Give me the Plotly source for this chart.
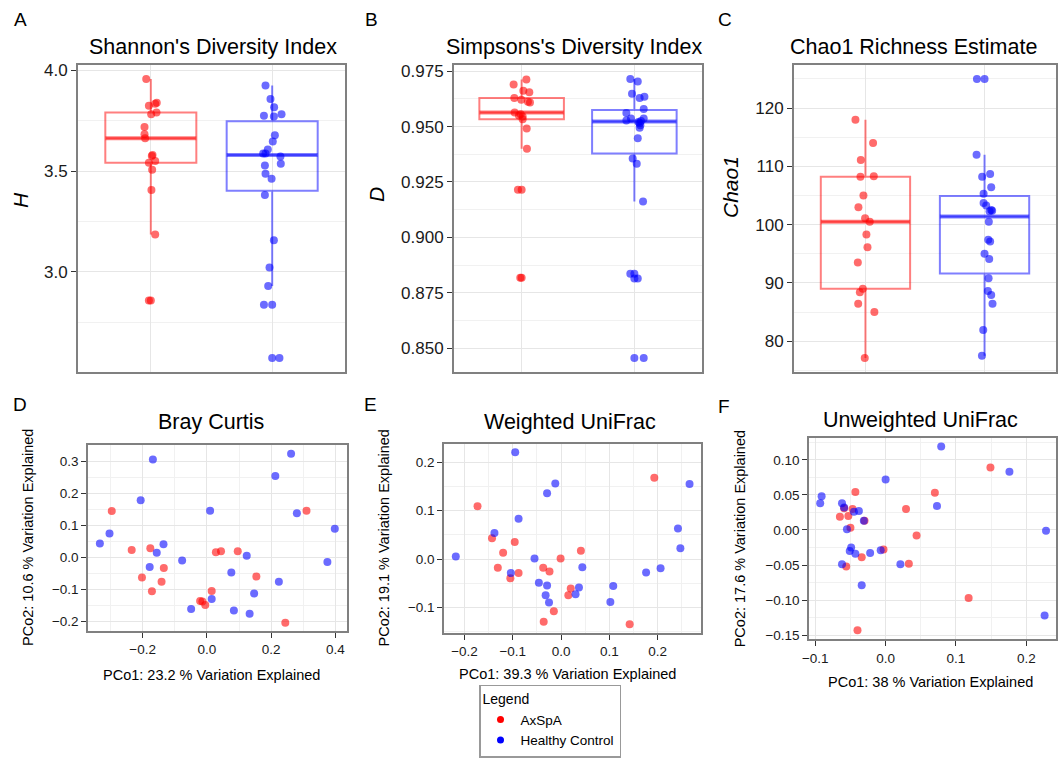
import numpy as np
import plotly.graph_objects as go

W, H = 1063, 759
FONT = "Liberation Sans, Arial, Helvetica, sans-serif"

groups = ["AxSpA", "Healthy Control"]

# ---------------- alpha diversity data ----------------
shannon_axspa = [3.958, 3.840, 3.835, 3.825, 3.792, 3.783, 3.720, 3.683, 3.663,
                 3.580, 3.575, 3.550, 3.542, 3.507, 3.407, 3.185, 2.858]
shannon_axspa_jitter = [-0.038, 0.049, 0.036, -0.016, 0.047, 0.003, -0.052, -0.052, -0.047,
                        0.014, 0.008, 0.036, -0.016, 0.011, 0.005, 0.036, -0.016]
shannon_hc = [3.925, 3.858, 3.817, 3.775, 3.772, 3.783, 3.678, 3.647, 3.608, 3.588, 3.588,
              3.573, 3.537, 3.528, 3.487, 3.463, 3.382, 3.157, 3.022, 2.930, 2.837, 2.572]
shannon_hc_jitter = [-0.055, -0.014, 0.016, -0.068, 0.014, 0.077, 0.022, 0.005, -0.036, -0.074, -0.055,
                     0.068, 0.071, -0.060, -0.055, -0.005, -0.060, 0.014, -0.022, -0.033, -0.068, 0.060]

simpson_axspa = [0.9690, 0.9712, 0.9662, 0.9655, 0.9629, 0.9621, 0.9609, 0.9612, 0.9564,
                 0.9556, 0.9545, 0.9533, 0.9550, 0.9491, 0.9400, 0.9215, 0.8818]
simpson_axspa_jitter = [-0.071, 0.042, 0.015, 0.068, -0.065, -0.003, 0.074, 0.056, -0.062,
                        -0.009, 0.009, 0.009, -0.024, 0.045, 0.047, -0.033, -0.012]
simpson_hc = [0.9715, 0.9703, 0.9648, 0.9629, 0.9635, 0.9579, 0.9561, 0.9536, 0.9527, 0.9536, 0.9521,
              0.9525, 0.9515, 0.9506, 0.9495, 0.9447, 0.9356, 0.9332, 0.9162, 0.8836, 0.8814, 0.8455]
simpson_hc_jitter = [-0.036, 0.030, -0.021, 0.047, 0.089, 0.083, -0.071, -0.030, -0.071, 0.083, 0.036,
                     0.059, 0.047, 0.053, 0.047, 0.030, -0.015, 0.021, 0.077, -0.036, 0.030, 0.083]

chao1_axspa = [118.0, 114.0, 111.1, 108.2, 108.3, 105.0, 103.0, 101.1, 100.5,
               98.3, 96.1, 93.5, 89.0, 88.4, 86.4, 85.0, 77.1]
chao1_axspa_jitter = [-0.084, 0.064, -0.039, -0.042, 0.070, -0.017, -0.059, -0.003, 0.036,
                      0.008, 0.017, -0.064, -0.022, -0.047, -0.061, 0.075, -0.006]
chao1_hc = [125.0, 112.0, 108.2, 108.7, 106.4, 105.3, 103.7, 103.3, 102.5, 102.4, 102.3,
            100.5, 97.4, 97.1, 95.0, 94.1, 90.8, 88.6, 87.9, 86.4, 81.9, 77.5]
chao1_hc_jitter = [-0.064, -0.067, -0.020, 0.047, 0.056, -0.008, -0.008, 0.014, 0.056, 0.064, 0.042,
                   0.036, 0.031, 0.047, 0.000, 0.039, 0.034, 0.028, 0.056, 0.067, -0.011, -0.022]

# ---------------- beta diversity (PCoA) data ----------------
bc_axspa_x = [-0.296, -0.234, -0.176, -0.202, -0.171, -0.134, -0.141, 0.028, 0.044, 0.096,
              0.154, 0.310, 0.015, -0.021, -0.014, -0.005, 0.244]
bc_axspa_y = [0.144, 0.023, 0.028, -0.063, -0.106, -0.033, -0.076, 0.016, 0.019, 0.019,
              -0.060, 0.145, -0.105, -0.136, -0.138, -0.149, -0.204]
bc_hc_x = [-0.168, -0.206, -0.333, -0.303, -0.135, -0.156, -0.178, -0.077, 0.010, -0.049, 0.015,
           0.076, 0.084, 0.124, 0.133, 0.147, 0.213, 0.262, 0.280, 0.224, 0.375, 0.398]
bc_hc_y = [0.305, 0.178, 0.043, 0.074, 0.041, 0.014, -0.030, -0.010, 0.145, -0.161, -0.130,
           -0.047, -0.166, 0.005, -0.176, -0.113, 0.253, 0.323, 0.137, -0.076, -0.015, 0.089]

wu_axspa_x = [-0.173, -0.143, -0.096, -0.120, -0.131, -0.088, -0.105, -0.037, -0.024, -0.001,
              0.041, 0.020, 0.015, -0.015, -0.036, 0.142, 0.193]
wu_axspa_y = [0.109, 0.043, 0.035, 0.013, -0.018, -0.029, -0.040, -0.018, -0.026, 0.001,
              0.017, -0.061, -0.075, -0.108, -0.130, -0.135, 0.168]
wu_hc_x = [-0.095, -0.012, -0.029, -0.088, -0.138, -0.218, -0.055, -0.104, -0.046, -0.029, -0.032,
           -0.025, 0.037, 0.030, 0.044, 0.108, 0.102, 0.176, 0.206, 0.242, 0.247, 0.266]
wu_hc_y = [0.221, 0.156, 0.136, 0.083, 0.054, 0.005, 0.001, -0.029, -0.049, -0.055, -0.075,
           -0.090, -0.059, -0.073, -0.017, -0.056, -0.089, -0.028, -0.019, 0.063, 0.022, 0.155]

uu_axspa_x = [0.149, 0.070, -0.043, 0.029, -0.065, -0.053, -0.047, -0.059, -0.030, -0.050,
              0.044, -0.003, -0.034, -0.056, 0.033, 0.118, -0.040]
uu_axspa_y = [0.089, 0.053, 0.054, 0.030, 0.019, 0.020, 0.030, 0.031, 0.013, 0.003,
              -0.008, -0.028, -0.039, -0.052, -0.048, -0.097, -0.143]
uu_hc_x = [0.079, 0.176, 0.000, -0.091, -0.093, -0.062, -0.059, -0.038, -0.045, 0.073, 0.228,
           -0.031, -0.055, -0.049, -0.051, -0.043, -0.022, -0.007, 0.021, -0.062, -0.034, 0.226]
uu_hc_y = [0.119, 0.083, 0.072, 0.048, 0.038, 0.038, 0.032, 0.027, 0.026, 0.034, -0.001,
           0.013, 0.001, -0.025, -0.030, -0.034, -0.033, -0.029, -0.049, -0.049, -0.079, -0.122]

# ---------------- styles ----------------
PT = {"AxSpA": "rgba(255,0,0,0.58)", "Healthy Control": "rgba(0,0,255,0.58)"}
BOXC = {"AxSpA": "rgba(255,0,0,0.5)", "Healthy Control": "rgba(0,0,255,0.5)"}
SOLID = {"AxSpA": "#ff0000", "Healthy Control": "#0000ff"}
GRID = "#e6e6e6"
MINOR = "#f1f1f1"
BORDER = "#808080"
MS = 8
BOXW = 0.75


def px2fx(px):
    return px / W


def px2fy(py):
    return 1 - py / H


def padded(lo, hi, frac=0.05):
    span = hi - lo
    return [lo - frac * span, hi + frac * span]


fig = go.Figure()


def add_box_panel(k, data, jitters):
    xa, ya = f"x{k}", f"y{k}"
    for i, (g, vals, jit) in enumerate(zip(groups, data, jitters)):
        c = i + 1
        v = np.asarray(vals, float)
        q1, med, q3 = np.percentile(v, [25, 50, 75])
        iqr = q3 - q1
        lo_f, hi_f = q1 - 1.5 * iqr, q3 + 1.5 * iqr
        inside = v[(v >= lo_f) & (v <= hi_f)]
        outl = v[(v < lo_f) | (v > hi_f)]
        fig.add_trace(go.Box(
            x=[c], q1=[q1], median=[med], q3=[q3],
            lowerfence=[inside.min()], upperfence=[inside.max()],
            orientation="v", width=BOXW, whiskerwidth=0, boxpoints=False,
            line=dict(color=BOXC[g], width=2), fillcolor="rgba(255,255,255,0)",
            xaxis=xa, yaxis=ya, showlegend=False, hoverinfo="skip"))
        fig.add_trace(go.Scatter(
            x=[c - BOXW / 2, c + BOXW / 2], y=[med, med], mode="lines",
            line=dict(color=BOXC[g], width=4), xaxis=xa, yaxis=ya,
            showlegend=False, hoverinfo="skip"))
        if len(outl):
            fig.add_trace(go.Scatter(
                x=[c] * len(outl), y=outl, mode="markers",
                marker=dict(color=PT[g], size=MS), xaxis=xa, yaxis=ya,
                showlegend=False))
        fig.add_trace(go.Scatter(
            x=[c + j for j in jit], y=vals, mode="markers",
            marker=dict(color=PT[g], size=MS), xaxis=xa, yaxis=ya,
            showlegend=False, name=g))


def add_pcoa_panel(k, xs, ys):
    for g, xv, yv in zip(groups, xs, ys):
        fig.add_trace(go.Scatter(
            x=xv, y=yv, mode="markers", marker=dict(color=PT[g], size=MS),
            xaxis=f"x{k}", yaxis=f"y{k}", showlegend=False, name=g))


add_box_panel(1, [shannon_axspa, shannon_hc], [shannon_axspa_jitter, shannon_hc_jitter])
add_box_panel(2, [simpson_axspa, simpson_hc], [simpson_axspa_jitter, simpson_hc_jitter])
add_box_panel(3, [chao1_axspa, chao1_hc], [chao1_axspa_jitter, chao1_hc_jitter])
add_pcoa_panel(4, [bc_axspa_x, bc_hc_x], [bc_axspa_y, bc_hc_y])
add_pcoa_panel(5, [wu_axspa_x, wu_hc_x], [wu_axspa_y, wu_hc_y])
add_pcoa_panel(6, [uu_axspa_x, uu_hc_x], [uu_axspa_y, uu_hc_y])

# legend entries
for g in groups:
    fig.add_trace(go.Scatter(x=[None], y=[None], mode="markers",
                             marker=dict(color=SOLID[g], size=7), name=g,
                             xaxis="x1", yaxis="y1", showlegend=True))

# ---------------- axes ----------------
boxes = {
    1: (78, 345, 65, 372), 2: (454, 702, 65, 372), 3: (794, 1056, 65, 372),
    4: (88.3, 347, 445, 631), 5: (444.3, 701, 444.3, 632.7), 6: (809.3, 1056, 438.3, 639.3),
}

allv = lambda a, b: (min(a + b), max(a + b))
yspec = {
    1: dict(range=padded(*allv(shannon_axspa, shannon_hc)), tick0=3.0, dtick=0.5, minor=0.25, fmt=".1f"),
    2: dict(range=padded(*allv(simpson_axspa, simpson_hc)), tick0=0.85, dtick=0.025, minor=0.0125, fmt=".3f"),
    3: dict(range=padded(*allv(chao1_axspa, chao1_hc)), tick0=80, dtick=10, minor=5, fmt="d"),
    4: dict(range=[-0.2297, 0.350], tick0=0, dtick=0.1, minor=0.05, fmt=".1f"),
    5: dict(range=[-0.1524, 0.2372], tick0=0, dtick=0.1, minor=0.05, fmt=".1f"),
    6: dict(range=[-0.1559, 0.1307], tick0=0, dtick=0.05, minor=0.025, fmt=".2f"),
}
xspec = {
    4: dict(range=[-0.369, 0.436], tick0=0, dtick=0.2, minor=0.1, fmt=".1f"),
    5: dict(range=[-0.2418, 0.2897], tick0=0, dtick=0.1, minor=0.05, fmt=".1f"),
    6: dict(range=[-0.1085, 0.2422], tick0=0, dtick=0.1, minor=0.05, fmt=".1f"),
}

layout_axes = {}
for k, (x0, x1, y0, y1) in boxes.items():
    top = k <= 3
    tfs = 17 if top else 13.5
    common = dict(showline=True, mirror=True, linecolor=BORDER, linewidth=2,
                  showgrid=True, gridcolor=GRID, gridwidth=1, zeroline=False,
                  tickfont=dict(family=FONT, size=tfs, color="#1a1a1a"))
    ys = yspec[k]
    yax = dict(common, domain=[px2fy(y1), px2fy(y0)], range=ys["range"],
               tickmode="linear", tick0=ys["tick0"], dtick=ys["dtick"],
               tickformat=ys["fmt"], ticks="outside", ticklen=5, tickwidth=1,
               tickcolor="#333333", anchor=f"x{k}",
               minor=dict(dtick=ys["minor"], tick0=ys["tick0"], showgrid=True,
                          gridcolor=MINOR, gridwidth=1, ticks=""))
    if top:
        xax = dict(common, domain=[px2fx(x0), px2fx(x1)], range=[0.4, 2.6],
                   type="linear", tickmode="array", tickvals=[1, 2],
                   showticklabels=False, ticks="", anchor=f"y{k}")
    else:
        xs = xspec[k]
        xax = dict(common, domain=[px2fx(x0), px2fx(x1)], range=xs["range"],
                   tickmode="linear", tick0=xs["tick0"], dtick=xs["dtick"],
                   tickformat=xs["fmt"], ticks="outside", ticklen=5, tickwidth=1,
                   tickcolor="#333333", anchor=f"y{k}",
                   minor=dict(dtick=xs["minor"], tick0=xs["tick0"], showgrid=True,
                              gridcolor=MINOR, gridwidth=1, ticks=""))
    suffix = "" if k == 1 else str(k)
    layout_axes[f"xaxis{suffix}"] = xax
    layout_axes[f"yaxis{suffix}"] = yax

# ---------------- text ----------------
annotations = []


def ann(text, px, py, size, angle=0):
    annotations.append(dict(text=text, x=px2fx(px), y=px2fy(py), xref="paper", yref="paper",
                            xanchor="center", yanchor="middle", showarrow=False,
                            textangle=angle, font=dict(family=FONT, size=size, color="#000000")))


for t, px, py in [("A", 20, 20), ("B", 371.5, 20), ("C", 725, 20),
                  ("D", 20, 404.5), ("E", 370, 404.5), ("F", 724, 406.5)]:
    ann(t, px, py, 19)

for t, px, py in [("Shannon's Diversity Index", 212.5, 47),
                  ("Simpsons's Diversity Index", 574, 47),
                  ("Chao1 Richness Estimate", 913, 47),
                  ("Bray Curtis", 211, 422),
                  ("Weighted UniFrac", 570, 422),
                  ("Unweighted UniFrac", 920, 420)]:
    ann(t, px, py, 21.5)

for t, px, py in [("<i>H</i>", 21, 200), ("<i>D</i>", 376, 195), ("<i>Chao1</i>", 730, 187)]:
    ann(t, px, py, 21, angle=-90)

for t, px, py in [("PCo2: 10.6 % Variation Explained", 28, 538),
                  ("PCo2: 19.1 % Variation Explained", 383, 538.5),
                  ("PCo2: 17.6 % Variation Explained", 739.5, 538.8)]:
    ann(t, px, py, 14.5, angle=-90)

for t, px, py in [("PCo1: 23.2 % Variation Explained", 211.7, 675),
                  ("PCo1: 39.3 % Variation Explained", 567, 674),
                  ("PCo1: 38 % Variation Explained", 930, 682)]:
    ann(t, px, py, 14.5)

fig.update_layout(
    width=W, height=H, margin=dict(l=0, r=0, t=0, b=0, autoexpand=False),
    paper_bgcolor="white", plot_bgcolor="white",
    font=dict(family=FONT, color="#000000"),
    annotations=annotations,
    legend=dict(x=px2fx(479), y=px2fy(757.5), xanchor="left", yanchor="bottom",
                bordercolor="#999999", borderwidth=1.5, bgcolor="white",
                title=dict(text="Legend", font=dict(family=FONT, size=14)),
                font=dict(family=FONT, size=13.5), tracegroupgap=0,
                itemwidth=30),
    **layout_axes,
)

fig.write_html("out.html")
